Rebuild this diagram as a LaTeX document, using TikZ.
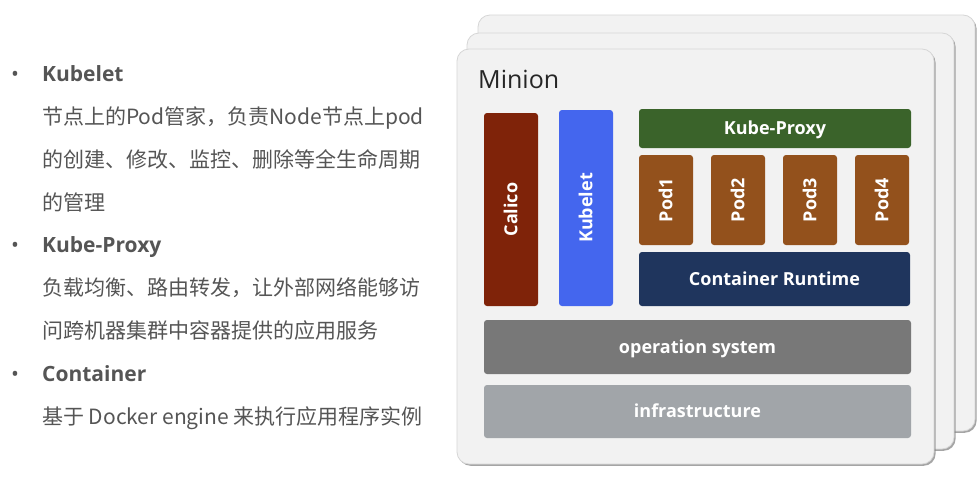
\documentclass[tikz,border=0pt]{standalone}
\usepackage{fontspec}
\setmainfont{Open Sans}
\newfontfamily\cjk{Noto Sans CJK SC}
\usetikzlibrary{shadows}
\definecolor{cardfill}{HTML}{F2F2F2}
\definecolor{cardline}{HTML}{D6D6D6}
\definecolor{txtgray}{HTML}{555555}
\definecolor{calicoc}{HTML}{7F2309}
\definecolor{kubeletc}{HTML}{4466EE}
\definecolor{proxyc}{HTML}{3A632A}
\definecolor{podc}{HTML}{93511C}
\definecolor{runtimec}{HTML}{1F355D}
\definecolor{osc}{HTML}{787878}
\definecolor{infrac}{HTML}{A1A5A9}
\begin{document}
\begin{tikzpicture}[x=1pt,y=-1pt,
  card/.style={draw=cardline, line width=0.8pt, fill=cardfill, rounded corners=12pt,
    inner sep=0pt, drop shadow={shadow xshift=1.6pt, shadow yshift=-1.8pt, fill=black!50, opacity=0.7}},
  blk/.style={rounded corners=3pt, text=white, inner sep=0pt, align=center,
    text height=12.8pt, text depth=0pt,
    font=\fontsize{18}{21}\selectfont\bfseries},
  podbox/.style={blk, fill=podc, rotate=90, minimum width=90pt, minimum height=54pt},
  bul/.style={anchor=base, inner sep=0pt, text=txtgray, font=\fontsize{21}{25}\selectfont},
  head/.style={anchor=base west, inner sep=0pt, text=txtgray, font=\fontsize{21}{25}\selectfont\bfseries},
  desc/.style={anchor=base west, inner sep=0pt, text=txtgray, font=\fontsize{21}{25}\selectfont\cjk}
]
\useasboundingbox[fill=white] (0,0) rectangle (980,482);

% stacked cards
\node[card, minimum width=497pt, minimum height=416pt] (back) at (726.5,223) {};
\node[card, minimum width=487pt, minimum height=416pt] (middle) at (710.5,241) {};
\node[card, minimum width=477pt, minimum height=415pt] (front) at (695.5,256.5) {};

\node[anchor=base west, inner sep=0pt, text=black!85, font=\fontsize{25}{30}\selectfont] (minion) at (478,88) {Minion};

% blocks
\node[blk, fill=calicoc, rotate=90, minimum width=193pt, minimum height=54pt] (calico) at (511,209.5) {Calico};
\node[blk, fill=kubeletc, rotate=90, minimum width=196pt, minimum height=54pt] (kubelet) at (586,208) {Kubelet};
\node[blk, fill=proxyc, minimum width=272pt, minimum height=39pt] (proxy) at (775,128.5) {Kube-Proxy};
\node[podbox] (pod1) at (666,200) {Pod1};
\node[podbox] (pod2) at (738,200) {Pod2};
\node[podbox] (pod3) at (810,200) {Pod3};
\node[podbox] (pod4) at (882,200) {Pod4};
\node[blk, fill=runtimec, minimum width=271pt, minimum height=54pt] (runtime) at (774.5,279) {Container Runtime};
\node[blk, fill=osc, minimum width=427pt, minimum height=54pt] (os) at (697.5,347) {operation system};
\node[blk, fill=infrac, minimum width=427pt, minimum height=53pt] (infra) at (697.5,411.5) {infrastructure};

% left text
\node[bul] (b1) at (15,81) {•};
\node[head] (h1) at (42,81) {Kubelet};
\node[desc] (d11) at (42,124) {节点上的Pod管家，负责Node节点上pod};
\node[desc] (d12) at (42,167) {的创建、修改、监控、删除等全生命周期};
\node[desc] (d13) at (42,210) {的管理};
\node[bul] (b2) at (15,252) {•};
\node[head] (h2) at (42,252) {Kube-Proxy};
\node[desc] (d21) at (42,295) {负载均衡、路由转发，让外部网络能够访};
\node[desc] (d22) at (42,338) {问跨机器集群中容器提供的应用服务};
\node[bul] (b3) at (15,381) {•};
\node[head] (h3) at (42,381) {Container};
\node[desc] (d31) at (42,424) {基于 Docker engine 来执行应用程序实例};
\end{tikzpicture}
\end{document}
